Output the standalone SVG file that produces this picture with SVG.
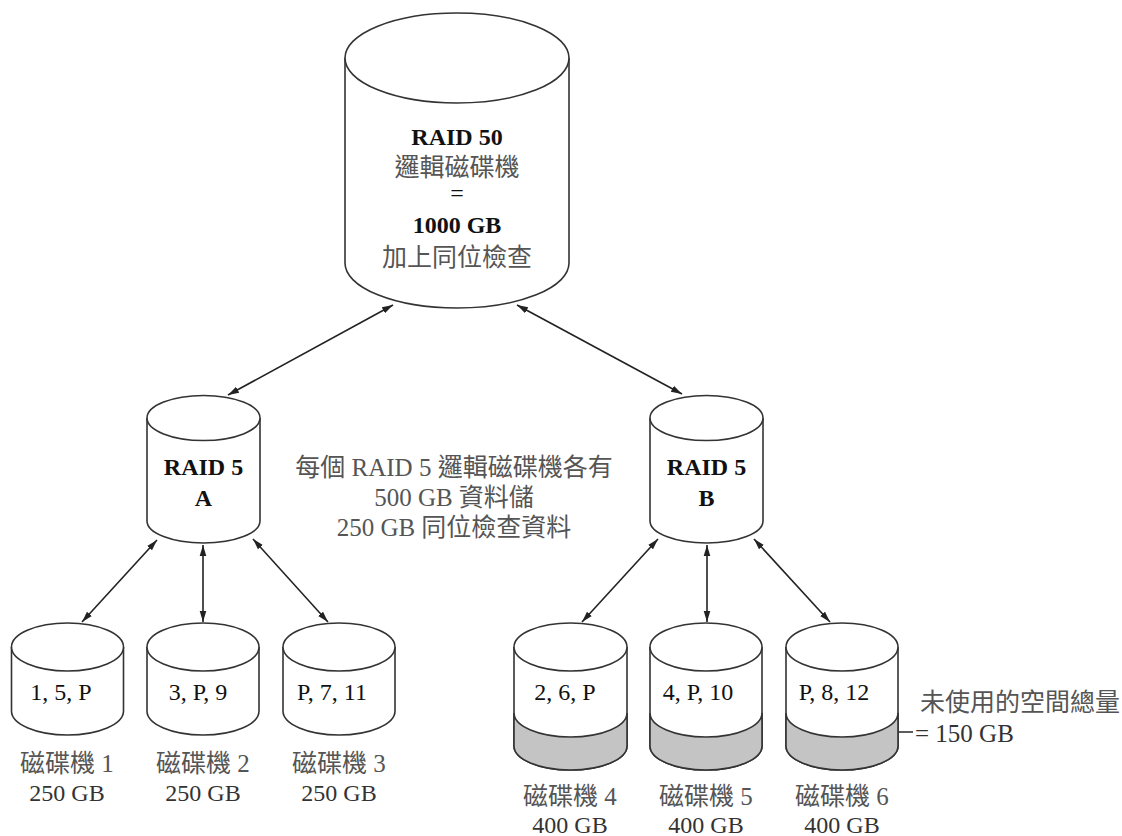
<svg xmlns="http://www.w3.org/2000/svg" width="1122" height="836" viewBox="0 0 1122 836">
<style>
.cyl{fill:#fff;stroke:#333;stroke-width:1.6}
.band{fill:#c4c4c4;stroke:none}
.sep{fill:none;stroke:#333;stroke-width:1.6}
.t{font-family:"Liberation Serif","Noto Sans CJK TC",serif;text-anchor:middle}
.s{font-family:"Liberation Serif","Noto Sans CJK TC",serif}
.b{font-weight:bold;fill:#111;font-size:24px}
.n{fill:#111;font-size:24px}
.g{fill:#555;font-size:25px}
.l{fill:#333;font-size:24px}
.c{stroke:#222;stroke-width:1.6;fill:none;marker-start:url(#ah);marker-end:url(#ah)}
</style>
<defs>
<marker id="ah" viewBox="0 0 10 10" refX="10" refY="5" markerWidth="11" markerHeight="11" markerUnits="userSpaceOnUse" orient="auto-start-reverse">
<path d="M0,2 L10,5 L0,8 z" fill="#222"/>
</marker>
</defs>
<rect width="1122" height="836" fill="#fff"/>

<g id="raid50">
<path class="cyl" d="M345,58 V263 A112,45 0 0 0 569,263 V58"/>
<ellipse class="cyl" cx="457" cy="58" rx="112" ry="45"/>
<text class="t b" x="457" y="145">RAID 50</text>
<text class="t g" x="457" y="176">邏輯磁碟機</text>
<text class="t n" x="457" y="201">=</text>
<text class="t b" x="457" y="233">1000 GB</text>
<text class="t g" x="457" y="266">加上同位檢查</text>
</g>

<g id="raid5a">
<path class="cyl" d="M147,418 V521 A56.5,22 0 0 0 260,521 V418"/>
<ellipse class="cyl" cx="203.5" cy="418" rx="56.5" ry="22.5"/>
<text class="t b" x="203.5" y="475">RAID 5</text>
<text class="t b" x="203.5" y="506">A</text>
</g>

<g id="raid5b">
<path class="cyl" d="M650,418 V521 A56.5,22 0 0 0 763,521 V418"/>
<ellipse class="cyl" cx="706.5" cy="418" rx="56.5" ry="22.5"/>
<text class="t b" x="706.5" y="475">RAID 5</text>
<text class="t b" x="706.5" y="506">B</text>
</g>

<g id="note">
<text class="t g" x="454" y="476">每個 RAID 5 邏輯磁碟機各有</text>
<text class="t g" x="454" y="506">500 GB 資料儲</text>
<text class="t g" x="454" y="536">250 GB 同位檢查資料</text>
</g>

<g id="disk1">
<path class="cyl" d="M11.5,647 V711 A56,24 0 0 0 123.5,711 V647"/>
<ellipse class="cyl" cx="67.5" cy="647" rx="56" ry="24"/>
<text class="t n" x="61" y="700">1, 5, P</text>
<text class="t g" x="67" y="772">磁碟機 1</text>
<text class="t l" x="67" y="801">250 GB</text>
</g>

<g id="disk2">
<path class="cyl" d="M147,647 V711 A56,24 0 0 0 259,711 V647"/>
<ellipse class="cyl" cx="203" cy="647" rx="56" ry="24"/>
<text class="t n" x="198" y="700">3, P, 9</text>
<text class="t g" x="203" y="772">磁碟機 2</text>
<text class="t l" x="203" y="801">250 GB</text>
</g>

<g id="disk3">
<path class="cyl" d="M283,647 V711 A56,24 0 0 0 395,711 V647"/>
<ellipse class="cyl" cx="339" cy="647" rx="56" ry="24"/>
<text class="t n" x="332" y="700">P, 7, 11</text>
<text class="t g" x="339" y="772">磁碟機 3</text>
<text class="t l" x="339" y="801">250 GB</text>
</g>

<g id="disk4">
<path class="cyl" d="M514,647 V746 A56.5,24 0 0 0 627,746 V647"/>
<path class="band" d="M514,713 V746 A56.5,24 0 0 0 627,746 V713 A56.5,24 0 0 1 514,713 Z"/>
<path class="sep" d="M514,713 V746 A56.5,24 0 0 0 627,746 V713 M627,713 A56.5,24 0 0 1 514,713"/>
<ellipse class="cyl" cx="570.5" cy="647" rx="56.5" ry="24"/>
<text class="t n" x="565" y="700">2, 6, P</text>
<text class="t g" x="570" y="805">磁碟機 4</text>
<text class="t l" x="570" y="833">400 GB</text>
</g>

<g id="disk5">
<path class="cyl" d="M650,647 V746 A56,24 0 0 0 762,746 V647"/>
<path class="band" d="M650,713 V746 A56,24 0 0 0 762,746 V713 A56,24 0 0 1 650,713 Z"/>
<path class="sep" d="M650,713 V746 A56,24 0 0 0 762,746 V713 M762,713 A56,24 0 0 1 650,713"/>
<ellipse class="cyl" cx="706" cy="647" rx="56" ry="24"/>
<text class="t n" x="698" y="700">4, P, 10</text>
<text class="t g" x="706" y="805">磁碟機 5</text>
<text class="t l" x="706" y="833">400 GB</text>
</g>

<g id="disk6">
<path class="cyl" d="M786,647 V746 A56,24 0 0 0 898,746 V647"/>
<path class="band" d="M786,713 V746 A56,24 0 0 0 898,746 V713 A56,24 0 0 1 786,713 Z"/>
<path class="sep" d="M786,713 V746 A56,24 0 0 0 898,746 V713 M898,713 A56,24 0 0 1 786,713"/>
<ellipse class="cyl" cx="842" cy="647" rx="56" ry="24"/>
<text class="t n" x="834" y="700">P, 8, 12</text>
<text class="t g" x="842" y="805">磁碟機 6</text>
<text class="t l" x="842" y="833">400 GB</text>
</g>

<g id="unused">
<line x1="898" y1="732" x2="913" y2="732" stroke="#333" stroke-width="1.6"/>
<text class="s g" x="920" y="711">未使用的空間總量</text>
<text class="s l" x="915" y="742" style="font-size:25px">= 150 GB</text>
</g>

<g id="connectors">
<line class="c" x1="393" y1="305" x2="228" y2="395"/>
<line class="c" x1="517" y1="305" x2="682" y2="394"/>
<line class="c" x1="157" y1="540" x2="82" y2="622"/>
<line class="c" x1="203" y1="545" x2="203" y2="622"/>
<line class="c" x1="253" y1="539" x2="328" y2="622"/>
<line class="c" x1="658" y1="539" x2="582" y2="622"/>
<line class="c" x1="707" y1="545" x2="707" y2="622"/>
<line class="c" x1="754" y1="539" x2="830" y2="622"/>
</g>
</svg>
